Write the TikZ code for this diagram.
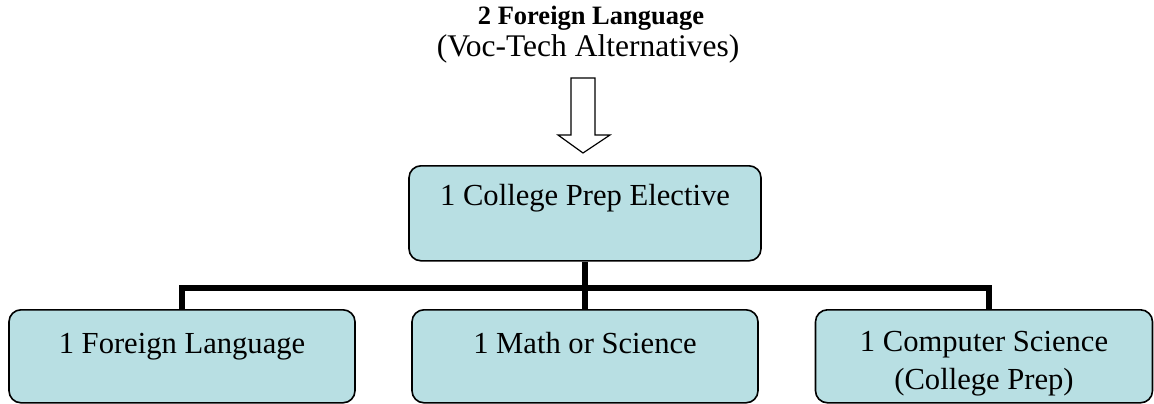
\documentclass[tikz,border=0pt]{standalone}
\usepackage{fontspec}
\setmainfont{Liberation Serif}
\usepackage{tikz}
\definecolor{optfill}{RGB}{184,223,227}
\tikzstyle{optbox}=[
        draw=black,
        line width=1.6pt,
        rounded corners=12pt,
        fill=optfill,
        inner sep=0pt,
        anchor=north,
        align=center,
        font=\fontsize{30.6}{38}\selectfont
]
\tikzstyle{link}=[
        draw=black,
        line width=6pt
]

\begin{document}
\begin{tikzpicture}[x=1pt,y=-1pt]
                        \useasboundingbox (0,0) rectangle (1154,404);

                        \node[anchor=base,font=\fontsize{26.5}{30}\selectfont\bfseries] (title) at (591,25) {2 Foreign Language};
                        \node[anchor=base,font=\fontsize{31.5}{36}\selectfont] (subtitle) at (588,57) {(Voc-Tech Alternatives)};

                        \draw[line width=1.2pt,fill=white] (571,78) -- (595,78) -- (595,135) -- (610,135)
                            -- (583,153) -- (558,135) -- (571,135) -- cycle;

                        \node[optbox,minimum width=352pt,text height=40pt,text depth=55pt] (elective) at (585,165) {1 College Prep Elective};

                        \node[optbox,minimum width=346pt,text height=44pt,text depth=49pt] (lang) at (182,309) {1 Foreign Language};
                        \node[optbox,minimum width=346pt,text height=44pt,text depth=49pt] (mathsci) at (585,309) {1 Math or Science};
                        % two lines: base is the last line here
                        \node[optbox,minimum width=337pt,text height=80pt,text depth=13pt] (compsci) at (984,309) {1 Computer Science\\(College Prep)};

                        \coordinate (hub) at ([yshift=-26pt]elective.south);
                        \draw[link] (elective.south) -- (mathsci.north);
                        \draw[link] (hub) -| (lang.north);
                        \draw[link] (hub) -| ([xshift=5pt]compsci.north);

                    \end{tikzpicture}
\end{document}
